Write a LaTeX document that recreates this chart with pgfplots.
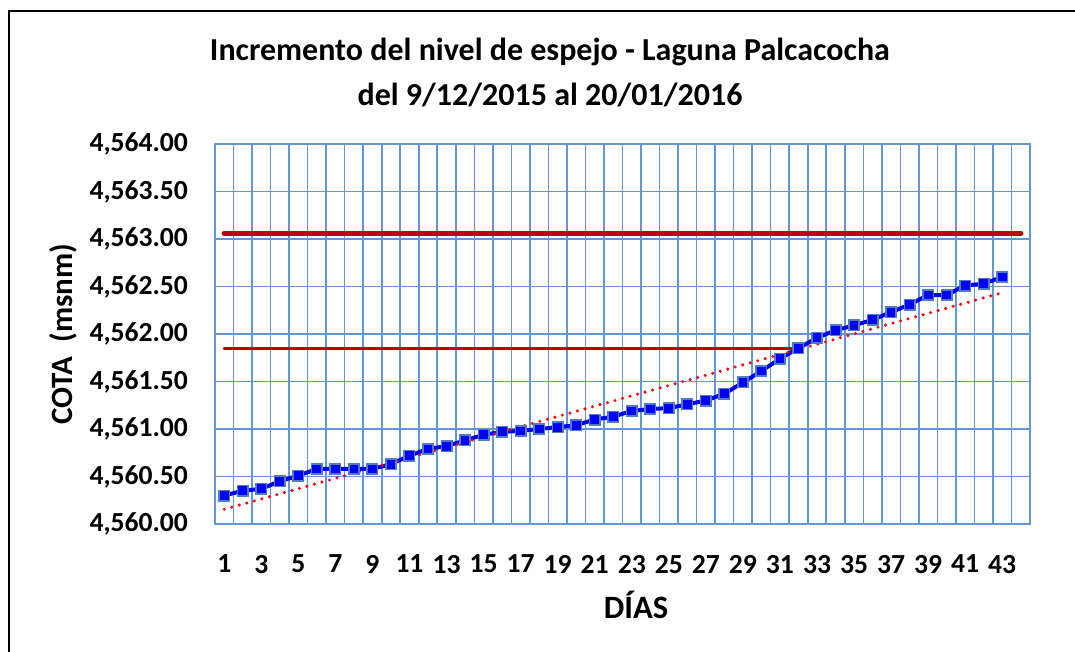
\documentclass[border=0pt]{standalone}
\usepackage{fontspec}
\setmainfont{Carlito}
\usepackage{pgfplots}
\pgfplotsset{compat=1.18}
\definecolor{gridblue}{RGB}{100,150,215}
\definecolor{darkred}{RGB}{192,0,0}
\definecolor{markedge}{RGB}{80,125,190}
\begin{document}
\begin{tikzpicture}[x=0.5pt,y=-0.5pt]
\useasboundingbox (0,0) rectangle (1075,652);
\draw[black, line width=1pt] (9,652) -- (9,11) -- (1075,11);
\begin{axis}[
  at={(107.5pt,-262pt)}, anchor=south west,
  scale only axis, width=407.5pt, height=190pt,
  xmin=0.5, xmax=44.5, ymin=4560, ymax=4564,
  xtick={1,3,...,43},
  minor xtick={0.5,1.5,...,44.5},
  ytick={4560,4560.5,4561,4561.5,4562,4562.5,4563,4563.5,4564},
  scaled y ticks=false,
  major tick length=0pt, minor tick length=0pt,
  xmajorgrids=false, xminorgrids=true, ymajorgrids=true,
  grid style={gridblue, line width=0.8pt},
  minor grid style={gridblue, line width=0.8pt},
  axis line style={gridblue, line width=0.9pt},
  tick label style={font=\bfseries\fontsize{13.8}{16}\selectfont, /pgf/number format/assume math mode=true},
  y tick label style={/pgf/number format/.cd, fixed, fixed zerofill, precision=2, 1000 sep={,}, /tikz/.cd, xshift=-10pt},
  x tick label style={yshift=-12pt},
  title={Incremento del nivel de espejo - Laguna Palcacocha\\del 9/12/2015 al 20/01/2016},
  title style={align=center, font=\bfseries\fontsize{16}{22.5}\selectfont, at={(axis description cs:0.411,1.157)}, anchor=center},
  xlabel={DÍAS},
  xlabel style={font=\bfseries\fontsize{16.3}{19}\selectfont, at={(axis description cs:0.5166,-0.213)}, anchor=center},
  ylabel={COTA\ \ (msnm)},
  ylabel style={font=\bfseries\fontsize{15.5}{19}\selectfont, at={(axis description cs:-0.1865,0.5)}, anchor=center, rotate=0},
]
\addplot[darkred, line width=2.7pt, line cap=round] coordinates {(1,4563.06) (44,4563.06)};
\addplot[darkred, line width=1.7pt, line cap=round] coordinates {(1,4561.85) (32,4561.85)};
\addplot[blue, line width=2pt, mark=square*, mark size=2.6pt, mark options={fill=blue, draw=markedge, line width=0.8pt}] coordinates {
(1,4560.30) (2,4560.35) (3,4560.37) (4,4560.45) (5,4560.51) (6,4560.58) (7,4560.58) (8,4560.58)
(9,4560.58) (10,4560.63) (11,4560.72) (12,4560.79) (13,4560.82) (14,4560.88) (15,4560.94) (16,4560.97)
(17,4560.98) (18,4561.00) (19,4561.02) (20,4561.04) (21,4561.10) (22,4561.13) (23,4561.19) (24,4561.21)
(25,4561.22) (26,4561.26) (27,4561.30) (28,4561.37) (29,4561.49) (30,4561.61) (31,4561.74) (32,4561.85)
(33,4561.96) (34,4562.04) (35,4562.09) (36,4562.15) (37,4562.23) (38,4562.31) (39,4562.41) (40,4562.41)
(41,4562.51) (42,4562.53) (43,4562.60)
};
\addplot[red, line width=1.7pt, line cap=round, dash pattern=on 0pt off 3.9pt] coordinates {(1,4560.155) (43,4562.435)};
\end{axis}
\end{tikzpicture}
\end{document}
